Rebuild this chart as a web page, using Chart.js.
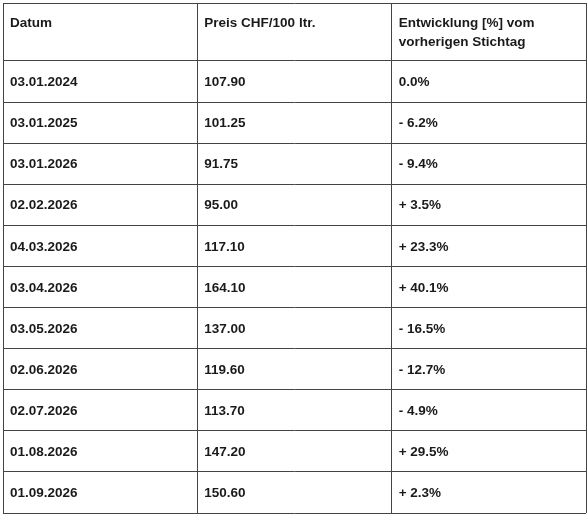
<!DOCTYPE html>
<html><head><meta charset="utf-8">
<script src="https://cdn.jsdelivr.net/npm/chart.js@4"></script>
<style>html,body{margin:0;padding:0;background:#fff}</style>
</head><body>
<canvas id="c" width="588" height="515"></canvas>
<script>
const headers = [["Datum"], ["Preis CHF/100 ltr."], ["Entwicklung [%] vom", "vorherigen Stichtag"]];
const dates = ["03.01.2024","03.01.2025","03.01.2026","02.02.2026","04.03.2026","03.04.2026","03.05.2026","02.06.2026","02.07.2026","01.08.2026","01.09.2026"];
const prices = [107.90,101.25,91.75,95.00,117.10,164.10,137.00,119.60,113.70,147.20,150.60];
const changes = ["0.0%","- 6.2%","- 9.4%","+ 3.5%","+ 23.3%","+ 40.1%","- 16.5%","- 12.7%","- 4.9%","+ 29.5%","+ 2.3%"];
const headerH = 1.41;
const yTicks = [0, headerH].concat(dates.map((d,i)=>headerH+i+1));
const yMax = headerH + dates.length;

const textPlugin = {
  id:'tableText',
  afterDraw(chart){
    const {ctx, scales:{x,y}} = chart;
    ctx.save();
    ctx.fillStyle = '#1a1a1a';
    ctx.font = 'bold 13.5px "Liberation Sans", Arial, sans-serif';
    ctx.textBaseline = 'alphabetic';
    headers.forEach((lines,c)=>{
      const px = x.getPixelForValue(c)+7;
      lines.forEach((t,k)=>ctx.fillText(t, px, y.getPixelForValue(0)+24+k*19));
    });
    ctx.textBaseline = 'middle';
    dates.forEach((d,i)=>{
      const py = y.getPixelForValue(headerH+i+0.5)+1;
      ctx.fillText(d, x.getPixelForValue(0)+7, py);
      ctx.fillText(prices[i].toFixed(2), x.getPixelForValue(1)+7, py);
      ctx.fillText(changes[i], x.getPixelForValue(2)+7, py);
    });
    ctx.restore();
  }
};

new Chart(document.getElementById('c'), {
  type:'scatter',
  data:{datasets:[{data:[]}]},
  options:{
    responsive:false, animation:false,
    layout:{padding:{left:3,top:3,right:2,bottom:2}},
    plugins:{legend:{display:false},tooltip:{enabled:false}},
    scales:{
      x:{type:'linear',min:0,max:3,
        afterBuildTicks(s){s.ticks=[0,1,2,3].map(v=>({value:v}));},
        ticks:{display:false},
        grid:{color:'#444',lineWidth:1,drawTicks:false,tickLength:0},
        border:{display:false}},
      y:{type:'linear',min:0,max:yMax,reverse:true,
        afterBuildTicks(s){s.ticks=yTicks.map(v=>({value:v}));},
        ticks:{display:false},
        grid:{color:'#444',lineWidth:1,drawTicks:false,tickLength:0},
        border:{display:false}}
    }
  },
  plugins:[textPlugin]
});
</script>
</body></html>
